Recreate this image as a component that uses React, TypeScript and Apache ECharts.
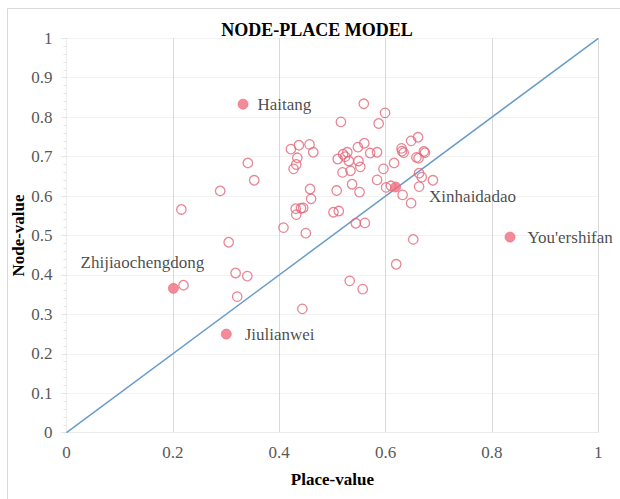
import React, { useEffect, useRef } from "react";
import * as echarts from "echarts";

// Open circles: other stations (place-value, node-value)
const placeValues = [
  0.516, 0.422, 0.437, 0.457, 0.464, 0.434, 0.432, 0.427, 0.341, 0.353,
  0.289, 0.216, 0.458, 0.46, 0.431, 0.441, 0.445, 0.432, 0.408, 0.45,
  0.305, 0.318, 0.34, 0.508, 0.502, 0.512, 0.51, 0.52, 0.524, 0.528,
  0.531, 0.519, 0.534, 0.537, 0.544, 0.561, 0.559, 0.599, 0.587, 0.56,
  0.548, 0.571, 0.584, 0.549, 0.5525, 0.596, 0.616, 0.63, 0.631, 0.634,
  0.648, 0.661, 0.658, 0.662, 0.672, 0.674, 0.551, 0.584, 0.601, 0.61,
  0.632, 0.648, 0.663, 0.668, 0.689, 0.663, 0.652, 0.62, 0.22, 0.321,
  0.4435, 0.5325, 0.557,
];
const nodeValues = [
  0.788, 0.719, 0.729, 0.731, 0.711, 0.697, 0.68, 0.669, 0.684, 0.64,
  0.613, 0.566, 0.618, 0.593, 0.568, 0.569, 0.57, 0.553, 0.52, 0.506,
  0.483, 0.405, 0.397, 0.614, 0.559, 0.562, 0.694, 0.706, 0.7, 0.711,
  0.689, 0.66, 0.664, 0.63, 0.531, 0.532, 0.834, 0.811, 0.784, 0.734,
  0.724, 0.709, 0.711, 0.689, 0.674, 0.669, 0.684, 0.721, 0.714, 0.71,
  0.74, 0.749, 0.698, 0.696, 0.713, 0.71, 0.61, 0.641, 0.622, 0.626,
  0.603, 0.582, 0.658, 0.648, 0.64, 0.624, 0.49, 0.427, 0.374, 0.345,
  0.314, 0.385, 0.364,
];

// Highlighted stations
const highlightNames = ["Haitang", "Xinhaidadao", "You'ershifan", "Zhijiaochengdong", "Jiulianwei"];
const highlightPlace = [0.332, 0.619, 0.834, 0.201, 0.3005];
const highlightNode = [0.833, 0.623, 0.496, 0.366, 0.25];

const axisTicks = [0, 0.2, 0.4, 0.6, 0.8, 1];

const labelLayouts: Record<string, any> = {
  Haitang: { position: "right", distance: 9 },
  Xinhaidadao: { position: "right", distance: 0, offset: [28, 10] },
  "You'ershifan": { position: "right", distance: 12 },
  Zhijiaochengdong: { position: "top", distance: 0, offset: [-31, -12] },
  Jiulianwei: { position: "right", distance: 13 },
};

const SERIF = "Liberation Serif";

export default function App() {
  const ref = useRef<HTMLDivElement>(null);

  useEffect(() => {
    if (!ref.current) return;
    const chart = echarts.init(ref.current, undefined, { renderer: "svg" });

    const openData = placeValues.map((x, i) => [x, nodeValues[i]]);
    const highlightData = highlightNames.map((name, i) => ({
      name,
      value: [highlightPlace[i], highlightNode[i]],
      label: { show: true, formatter: name, ...labelLayouts[name] },
    }));

    chart.setOption({
      animation: false,
      backgroundColor: "#ffffff",
      textStyle: { fontFamily: SERIF },
      graphic: [
        {
          type: "rect",
          shape: { x: 7.5, y: 8.5, width: 700, height: 600 },
          style: { fill: "none", stroke: "#d9d9d9", lineWidth: 1 },
          silent: true,
        },
        {
          type: "text",
          x: 317,
          y: 30,
          style: {
            text: "NODE-PLACE MODEL",
            font: `bold 18px ${SERIF}`,
            fill: "#000000",
            textAlign: "center",
            textVerticalAlign: "middle",
          },
        },
      ],
      grid: {
        left: 66.5,
        right: 21.7,
        top: 38.3,
        bottom: 66.3,
        containLabel: false,
        outerBoundsMode: "none",
      },
      xAxis: {
        type: "value",
        min: 0,
        max: 1,
        interval: 0.2,
        name: "Place-value",
        nameLocation: "middle",
        nameGap: 38,
        nameTextStyle: { fontFamily: SERIF, fontWeight: "bold", fontSize: 17, color: "#000" },
        axisLine: { show: true, lineStyle: { color: "#ececec" } },
        axisTick: { show: false },
        axisLabel: {
          fontFamily: SERIF,
          fontSize: 17,
          color: "#595959",
          margin: 11,
          formatter: (v: number) => (axisTicks.some((t) => Math.abs(t - v) < 1e-9) ? String(Number(v.toFixed(1))) : ""),
        },
        splitLine: { show: true, lineStyle: { color: "#d9d9d9", width: 1 } },
      },
      yAxis: {
        type: "value",
        min: 0,
        max: 1,
        interval: 0.1,
        name: "Node-value",
        nameLocation: "middle",
        nameGap: 40,
        nameMoveOverlap: false,
        nameRotate: 90,
        nameTextStyle: { fontFamily: SERIF, fontWeight: "bold", fontSize: 17, color: "#000" },
        axisLine: { show: true, lineStyle: { color: "#ececec" } },
        axisTick: { show: true, inside: false, length: 5, lineStyle: { color: "#e3e3e3" } },
        minorTick: { show: true, splitNumber: 5, length: 3, lineStyle: { color: "#e3e3e3" } },
        axisLabel: {
          fontFamily: SERIF,
          fontSize: 17,
          color: "#595959",
          margin: 14,
          formatter: (v: number) => String(Number(v.toFixed(1))),
        },
        splitLine: { show: true, lineStyle: { color: "#f2f2f2", width: 1 } },
      },
      series: [
        {
          type: "line",
          data: [
            [0, 0],
            [1, 1],
          ],
          symbol: "none",
          lineStyle: { color: "#6a9cc8", width: 1.5 },
          silent: true,
          z: 2,
        },
        {
          type: "scatter",
          data: openData,
          symbol: "circle",
          symbolSize: 9.5,
          itemStyle: { color: "rgba(255,255,255,0)", borderColor: "#e2687a", borderWidth: 1.3 },
          z: 3,
        },
        {
          type: "scatter",
          data: highlightData,
          symbol: "circle",
          symbolSize: 10,
          itemStyle: { color: "#f06f7e", borderColor: "#e8677a", borderWidth: 0.8 },
          label: {
            show: true,
            fontFamily: SERIF,
            fontSize: 17,
            color: "#1a1a1a",
          },
          z: 4,
        },
      ],
    });

    return () => chart.dispose();
  }, []);

  return (
    <div
      ref={ref}
      style={{ position: "fixed", left: 0, top: 0, width: 620, height: 499, background: "#fff" }}
    />
  );
}
